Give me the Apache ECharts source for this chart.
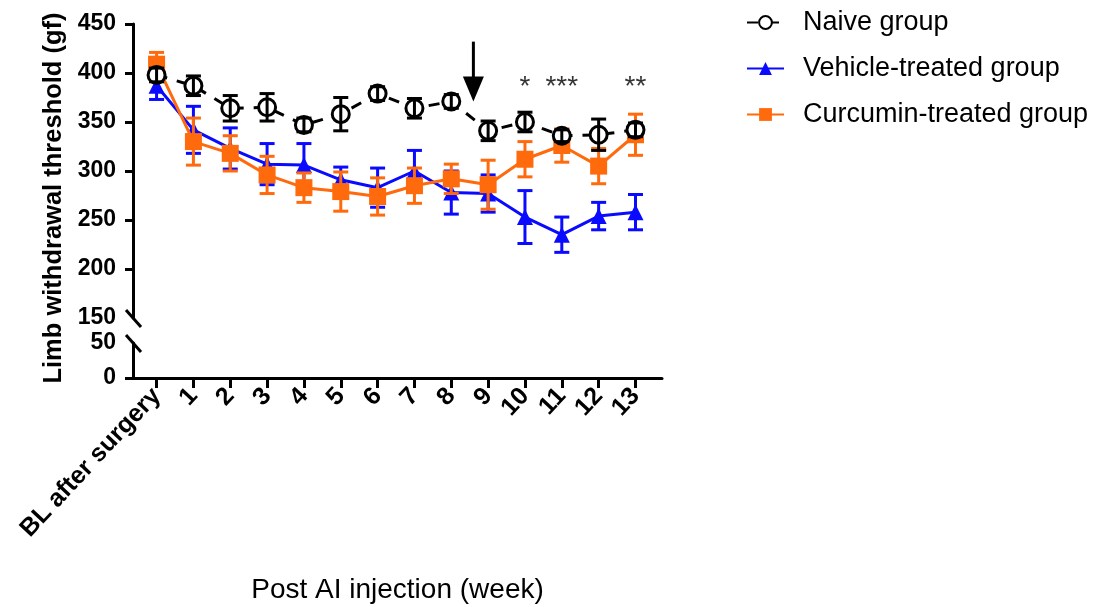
<!DOCTYPE html>
<html>
<head>
<meta charset="utf-8">
<script src="https://cdn.jsdelivr.net/npm/echarts@6/dist/echarts.min.js"></script>
<style>
  html, body { margin: 0; padding: 0; background: #fff; }
  #chart { width: 1109px; height: 607px; }
</style>
</head>
<body>
<div id="chart"></div>
<script>
// Week labels along the x axis
const categories = ['BL after surgery', '1', '2', '3', '4', '5', '6', '7', '8', '9', '10', '11', '12', '13'];

// Group means and error half-widths (gf)
const naiveMean    = [398, 387, 364, 365, 347, 358, 379, 364, 371, 341, 350, 336, 337, 342];
const naiveErr     = [7, 10, 13, 14, 7, 17, 7, 10, 7, 10, 10, 6, 16, 7];
const vehicleMean  = [387, 342, 323, 307, 306, 291, 283, 300, 278, 277, 253, 235, 254, 258];
const vehicleErr   = [14, 24, 21, 21, 22, 13, 20, 21, 22, 19, 27, 18, 14, 18];
const curcuminMean = [409, 330, 318, 296, 283, 279, 274, 285, 292, 286, 312, 326, 305, 337];
const curcuminErr  = [12, 24, 18, 19, 15, 20, 19, 18, 15, 25, 18, 17, 18, 21];

// Significance marks above selected weeks
const sigWeeks  = [10, 11, 13];
const sigLabels = ['*', '***', '**'];
const sigLevel  = 385;

// Treatment start arrow (x position between weeks 8 and 9, y span in gf)
const arrowWeek = 8.6;
const arrowFrom = 432;
const arrowTo   = 371;

// Broken y axis: upper segment and lower segment ticks
const upperTicks = [150, 200, 250, 300, 350, 400, 450];
const lowerTicks = [0, 50];

const weekIdx = categories.map((_, i) => i);
const FONT = 'Liberation Sans, Arial, sans-serif';
const BLUE = '#0a0aff';
const ORANGE = '#ff6a0d';

function pairs(mean) { return mean.map((v, i) => [i, v]); }
function triples(mean, err) { return mean.map((v, i) => [i, v, err[i]]); }

function errorBarSeries(name, mean, err, color, z) {
  return {
    type: 'custom',
    name: name + ' SEM',
    xAxisIndex: 0, yAxisIndex: 0,
    z: z,
    silent: true,
    data: triples(mean, err),
    renderItem: function (params, api) {
      const x = api.value(0), m = api.value(1), e = api.value(2);
      const hi = api.coord([x, m + e]);
      const lo = api.coord([x, m - e]);
      const hw = 7.5;
      const st = { stroke: color, lineWidth: 3 };
      return {
        type: 'group',
        children: [
          { type: 'line', shape: { x1: hi[0], y1: hi[1], x2: lo[0], y2: lo[1] }, style: st },
          { type: 'line', shape: { x1: hi[0] - hw, y1: hi[1], x2: hi[0] + hw, y2: hi[1] }, style: st },
          { type: 'line', shape: { x1: lo[0] - hw, y1: lo[1], x2: lo[0] + hw, y2: lo[1] }, style: st }
        ]
      };
    }
  };
}

const xBase = {
  type: 'value', min: -0.64, max: 13.72,
  splitLine: { show: false }
};

const chart = echarts.init(document.getElementById('chart'), null, { renderer: 'canvas' });

const option = {
  animation: false,
  backgroundColor: '#fff',
  textStyle: { fontFamily: FONT },
  grid: [
    { left: 133, top: 24, width: 529, height: 294 },
    { left: 133, top: 343, width: 529, height: 35 }
  ],
  xAxis: [
    Object.assign({}, xBase, { gridIndex: 0, show: false }),
    Object.assign({}, xBase, {
      gridIndex: 1,
      name: 'Post AI injection (week)',
      nameLocation: 'middle',
      nameGap: 198,
      nameTextStyle: { fontSize: 28, color: '#000', fontFamily: FONT },
      axisLine: { onZero: false, lineStyle: { color: '#000', width: 3 } },
      axisTick: { customValues: weekIdx, length: 10, lineStyle: { color: '#000', width: 3 } },
      axisLabel: {
        customValues: weekIdx,
        rotate: 47, margin: 14,
        fontSize: 25, fontWeight: 'bold', color: '#000', fontFamily: FONT,
        formatter: v => categories[Math.round(v)]
      }
    })
  ],
  yAxis: [
    {
      type: 'value', gridIndex: 0, min: 150, max: 450,
      splitLine: { show: false },
      axisLine: { show: true, onZero: false, lineStyle: { color: '#000', width: 3 } },
      axisTick: { show: true, customValues: upperTicks.slice(1), length: 8, lineStyle: { color: '#000', width: 3 } },
      axisLabel: { customValues: upperTicks, margin: 17, fontSize: 23, fontWeight: 'bold', color: '#000', fontFamily: FONT }
    },
    {
      type: 'value', gridIndex: 1, min: 0, max: 50,
      splitLine: { show: false },
      axisLine: { show: true, onZero: false, lineStyle: { color: '#000', width: 3 } },
      axisTick: { show: true, customValues: [0], length: 8, lineStyle: { color: '#000', width: 3 } },
      axisLabel: { customValues: lowerTicks, margin: 17, fontSize: 23, fontWeight: 'bold', color: '#000', fontFamily: FONT }
    }
  ],
  legend: {
    orient: 'vertical',
    left: 741, top: 4,
    itemWidth: 37, itemHeight: 16, itemGap: 19,
    data: ['Naive group', 'Vehicle-treated group', 'Curcumin-treated group'],
    textStyle: { fontSize: 27, color: '#000', fontFamily: FONT, padding: [0, 0, 0, 14] }
  },
  series: [
    errorBarSeries('Vehicle-treated group', vehicleMean, vehicleErr, BLUE, 2),
    {
      name: 'Vehicle-treated group', type: 'line', xAxisIndex: 0, yAxisIndex: 0, z: 3,
      data: pairs(vehicleMean),
      symbol: 'triangle', symbolSize: 16,
      lineStyle: { color: BLUE, width: 3 },
      itemStyle: { color: BLUE }
    },
    errorBarSeries('Curcumin-treated group', curcuminMean, curcuminErr, ORANGE, 4),
    {
      name: 'Curcumin-treated group', type: 'line', xAxisIndex: 0, yAxisIndex: 0, z: 5,
      data: pairs(curcuminMean),
      symbol: 'rect', symbolSize: 17,
      lineStyle: { color: ORANGE, width: 3 },
      itemStyle: { color: ORANGE }
    },
    {
      name: 'Naive group', type: 'line', xAxisIndex: 0, yAxisIndex: 0, z: 6,
      data: pairs(naiveMean),
      symbol: 'circle', symbolSize: 17,
      lineStyle: { color: '#000', width: 3, type: [11, 10] },
      itemStyle: { color: '#fff', borderColor: '#000', borderWidth: 3 }
    },
    errorBarSeries('Naive group', naiveMean, naiveErr, '#000', 7),
    {
      // treatment start arrow
      type: 'custom', name: 'arrow', xAxisIndex: 0, yAxisIndex: 0, z: 8, silent: true,
      data: [[arrowWeek, arrowFrom, arrowTo]],
      renderItem: function (params, api) {
        const top = api.coord([api.value(0), api.value(1)]);
        const tip = api.coord([api.value(0), api.value(2)]);
        const headH = 25, headW = 10.5;
        return {
          type: 'group',
          children: [
            { type: 'line', shape: { x1: top[0], y1: top[1], x2: tip[0], y2: tip[1] - headH + 2 },
              style: { stroke: '#000', lineWidth: 3 } },
            { type: 'polygon', shape: { points: [[tip[0] - headW, tip[1] - headH], [tip[0] + headW, tip[1] - headH], [tip[0], tip[1]]] },
              style: { fill: '#000' } }
          ]
        };
      }
    },
    {
      type: 'scatter', name: 'sig', xAxisIndex: 0, yAxisIndex: 0, z: 8, silent: true,
      symbolSize: 0,
      data: sigWeeks.map((w, i) => ({ value: [w, sigLevel], label: { formatter: sigLabels[i] } })),
      label: { show: true, position: 'inside', fontSize: 28, color: '#000', fontFamily: FONT, letterSpacing: 1 }
    }
  ]
};

chart.setOption(option);

// Axis break marks and the y-axis title
const axisX = chart.convertToPixel({ xAxisIndex: 0 }, -0.64);
const yUpper = chart.convertToPixel({ yAxisIndex: 0 }, 150);
const yLower = chart.convertToPixel({ yAxisIndex: 1 }, 50);
function slash(y) {
  return { type: 'line', shape: { x1: axisX - 7, y1: y - 8, x2: axisX + 8, y2: y + 9 },
           style: { stroke: '#000', lineWidth: 3 }, z: 10 };
}
chart.setOption({
  graphic: [
    slash(yUpper),
    slash(yLower),
    {
      type: 'text', x: 54, y: 198, rotation: Math.PI / 2, z: 10,
      style: { text: 'Limb withdrawal threshold (gf)', fontSize: 25.5, fontWeight: 'bold',
               fontFamily: FONT, fill: '#000', align: 'center', verticalAlign: 'middle' }
    }
  ]
});
</script>
</body>
</html>
